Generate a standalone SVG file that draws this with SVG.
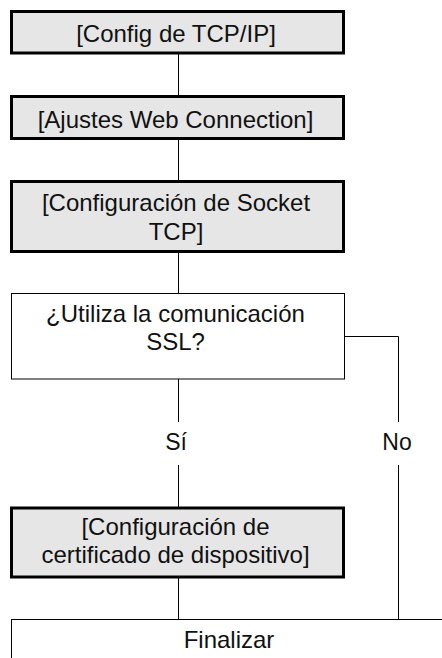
<svg xmlns="http://www.w3.org/2000/svg" width="442" height="658" viewBox="0 0 442 658">
<style>
.proc{fill:#e6e6e6;stroke:#000;stroke-width:3}
.plain{fill:#fff;stroke:#000;stroke-width:1}
.t{font-family:"Liberation Sans",Arial,Helvetica,sans-serif;font-size:24px;fill:#111;text-anchor:middle}
.lbl{font-size:23px}
.c{stroke:#000;stroke-width:1;fill:none}
</style>
<rect width="442" height="658" fill="#fff"/>
<g id="connectors">
<line class="c" x1="178.5" y1="54" x2="178.5" y2="96"/>
<line class="c" x1="178.5" y1="139" x2="178.5" y2="181"/>
<line class="c" x1="178.5" y1="252" x2="178.5" y2="294"/>
<line class="c" x1="178.5" y1="379" x2="178.5" y2="422"/>
<line class="c" x1="178.5" y1="465" x2="178.5" y2="508"/>
<line class="c" x1="178.5" y1="577" x2="178.5" y2="620"/>
<polyline class="c" points="344.5,336.5 398.5,336.5 398.5,422"/>
<line class="c" x1="398.5" y1="465" x2="398.5" y2="620"/>
<text class="t lbl" x="176" y="450">Sí</text>
<text class="t lbl" x="397" y="450">No</text>
</g>
<g id="n1">
<rect class="proc" x="11.5" y="11.5" width="332" height="41.5"/>
<text class="t" x="176" y="41.5">[Config de TCP/IP]</text>
</g>
<g id="n2">
<rect class="proc" x="11.5" y="96.5" width="332" height="42"/>
<text class="t" x="175.5" y="127.5">[Ajustes Web Connection]</text>
</g>
<g id="n3">
<rect class="proc" x="11.5" y="181.5" width="332" height="70"/>
<text class="t" x="176" y="211">[Configuración de Socket</text>
<text class="t" x="176" y="240">TCP]</text>
</g>
<g id="n4">
<rect class="plain" x="11.5" y="293.5" width="333" height="85.5"/>
<text class="t" x="175.5" y="322">¿Utiliza la comunicación</text>
<text class="t" x="175.5" y="350">SSL?</text>
</g>
<g id="n5">
<rect class="proc" x="11.5" y="508" width="332" height="69"/>
<text class="t" x="175.5" y="535">[Configuración de</text>
<text class="t" x="175.5" y="563">certificado de dispositivo]</text>
</g>
<g id="n6">
<rect class="plain" x="11.5" y="619.5" width="450" height="60"/>
<text class="t" x="229" y="648">Finalizar</text>
</g>
</svg>
